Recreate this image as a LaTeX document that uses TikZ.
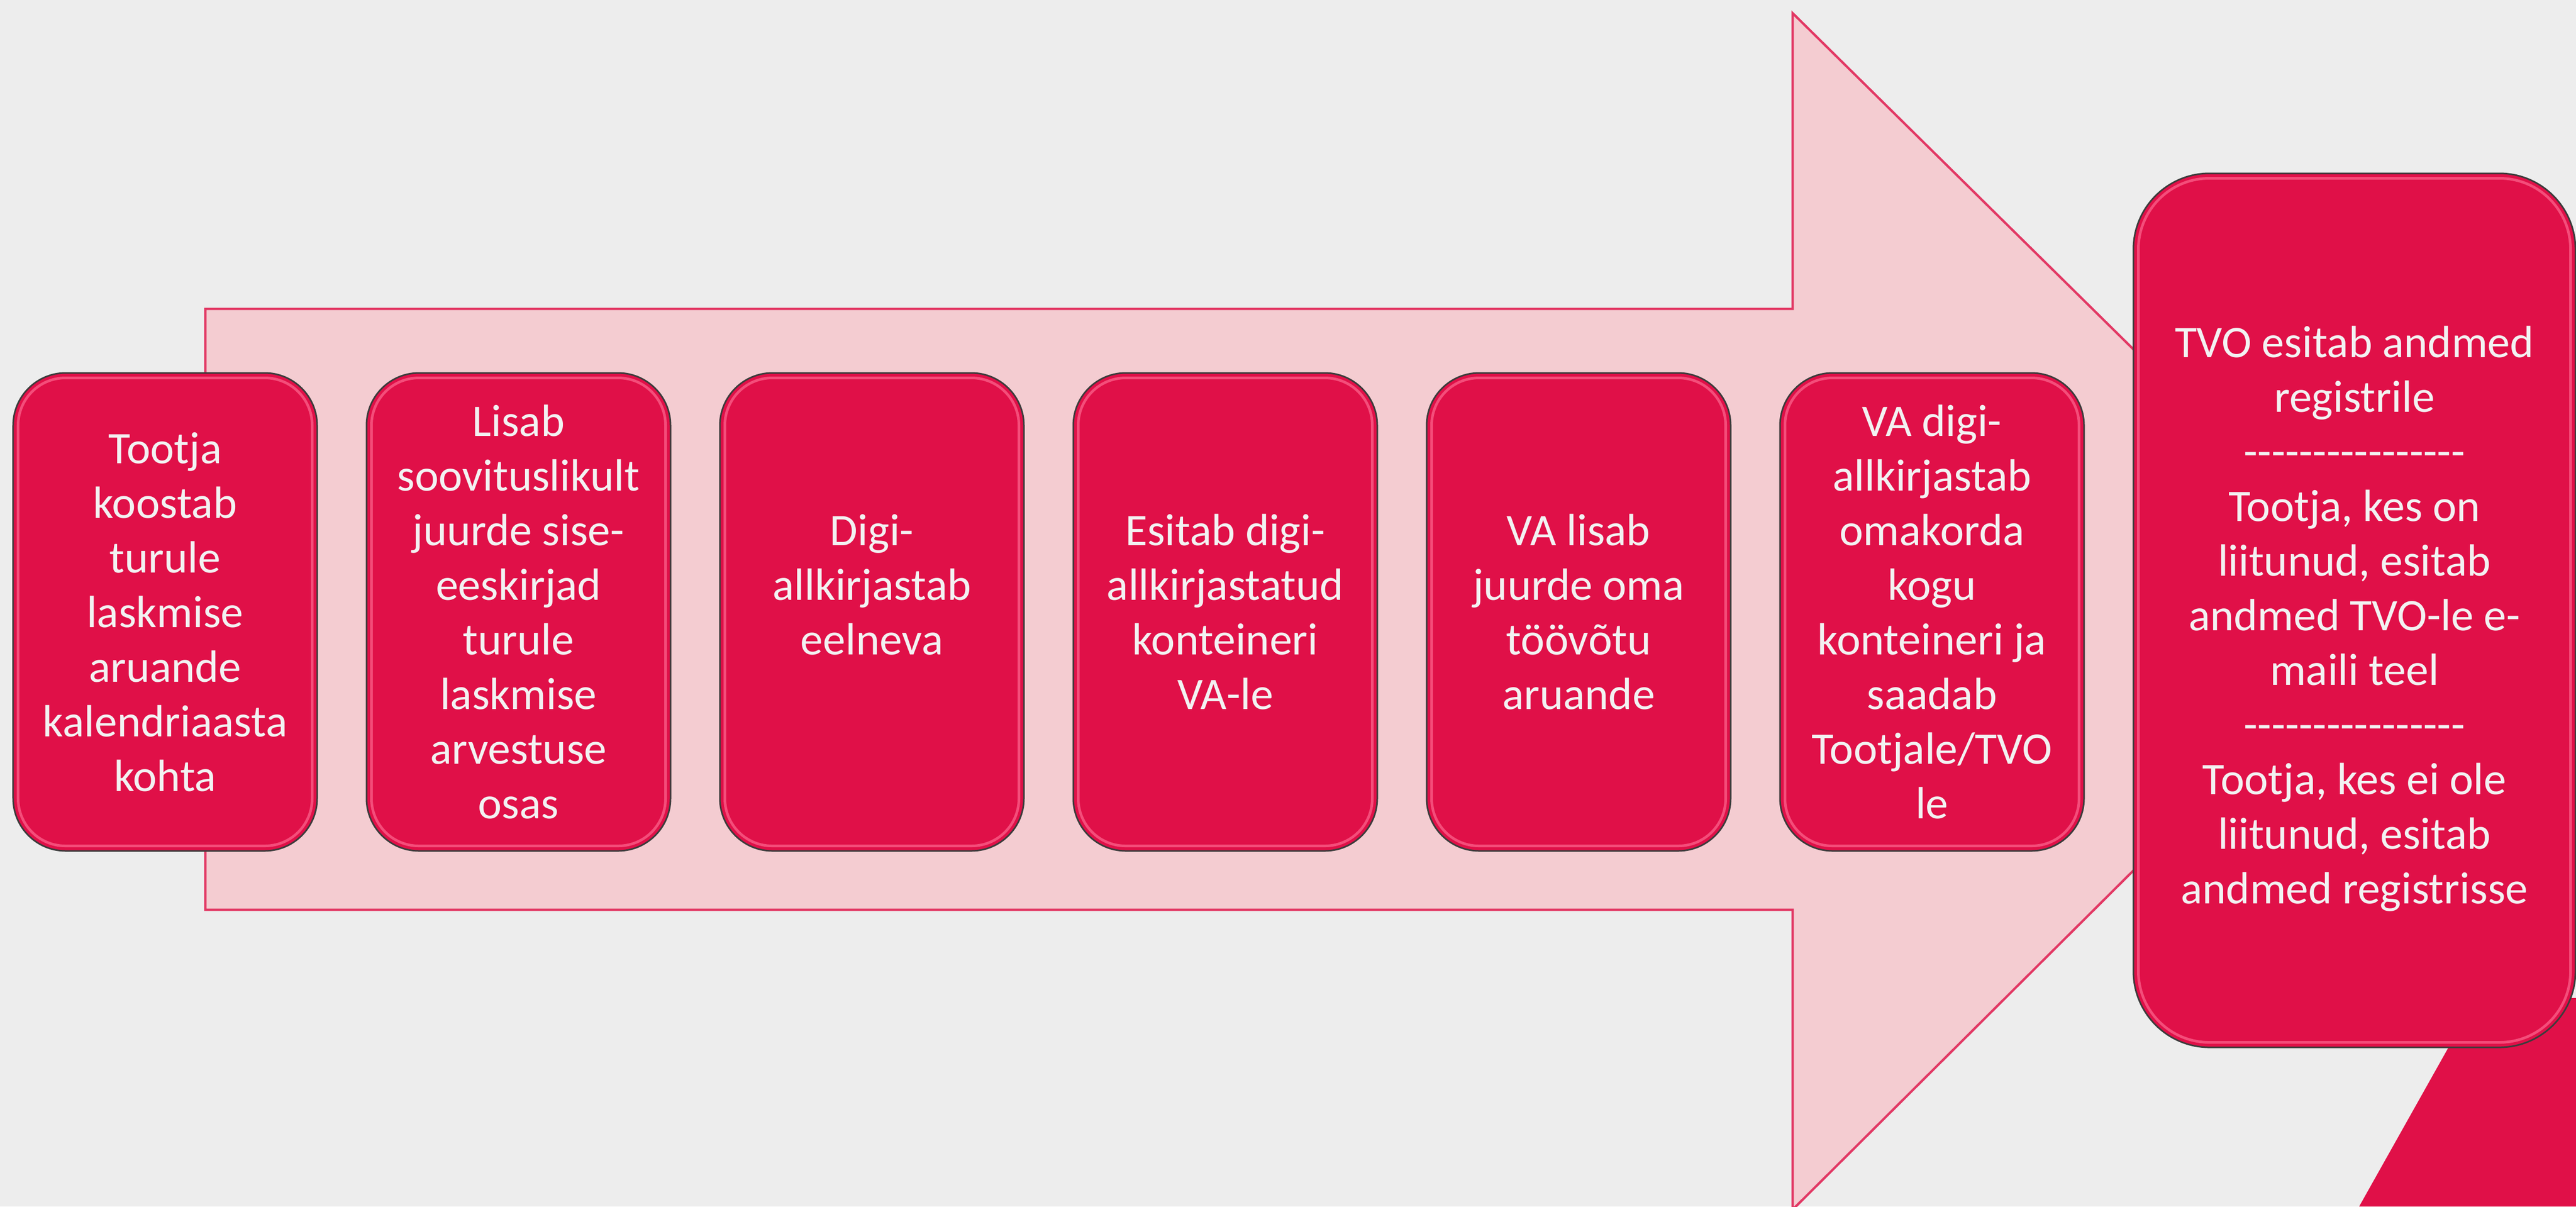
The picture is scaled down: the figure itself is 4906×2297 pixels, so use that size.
\documentclass[tikz,border=0pt]{standalone}
\usepackage{fontspec}
\setmainfont{Carlito}
\definecolor{bg}{RGB}{237,237,237}
\definecolor{arrowfill}{RGB}{244,204,209}
\definecolor{arrowline}{RGB}{226,56,100}
\definecolor{boxred}{RGB}{224,16,72}
\definecolor{boxline}{RGB}{60,60,60}
\definecolor{hilite}{RGB}{255,110,150}
\definecolor{txt}{RGB}{242,242,242}
\newcommand{\dashrow}{-{}-{}-{}-{}-{}-{}-{}-{}-{}-{}-{}-{}-{}-{}-{}-{}}
\begin{document}
\begin{tikzpicture}[x=0.2pt,y=-0.2pt,
  boxtext/.style={text=txt, align=center, inner sep=0pt, font=\fontsize{17.2}{20.8}\selectfont},
  stepbox/.style={boxtext, fill=boxred, draw=boxline, line width=0.6pt, rounded corners=20pt,
    minimum width=115.8pt, minimum height=182pt},
  bigbox/.style={stepbox, rounded corners=29pt, minimum width=168.4pt, minimum height=332.8pt},
  hl/.style={draw=hilite, line width=1pt, opacity=0.65, rounded corners=18pt},
  hlbig/.style={hl, rounded corners=27pt}]
\useasboundingbox (0,0) rectangle (4906,2297);
\fill[bg] (0,0) rectangle (4906,2297);
\clip (0,0) rectangle (4906,2297);
% big arrow
\draw[fill=arrowfill, draw=arrowline, line width=0.9pt]
  (391,588) -- (3414,588) -- (3414,25) -- (4564,1159) -- (3414,2303) -- (3414,1732) -- (391,1732) -- cycle;
% red quad bottom right
\fill[boxred] (4716,1900) -- (4906,1900) -- (4906,2297) -- (4493,2297) -- cycle;
% steps
\node[stepbox] (b1) at (314.5,1165) {Tootja\\koostab\\turule\\laskmise\\aruande\\kalendriaasta\\kohta};
\node[stepbox] (b2) at (987.5,1165) {Lisab\\soovituslikult\\juurde sise-\\eeskirjad\\turule\\laskmise\\arvestuse\\osas};
\node[stepbox] (b3) at (1660.5,1165) {Digi-\\allkirjastab\\eelneva\\~};
\node[stepbox] (b4) at (2333.5,1165) {Esitab digi-\\allkirjastatud\\konteineri\\VA-le};
\node[stepbox] (b5) at (3006.5,1165) {VA lisab\\juurde oma\\töövõtu\\aruande};
\node[stepbox] (b6) at (3679.5,1165) {VA digi-\\allkirjastab\\omakorda\\kogu\\konteineri ja\\saadab\\Tootjale/TVO\\le};
\node[bigbox] (b7) at (4484,1162) {};
\node[boxtext] (b7t) at (4484,1178) {TVO esitab andmed\\registrile\\\dashrow\\Tootja, kes on\\liitunud, esitab\\andmed TVO-le e-\\maili teel\\\dashrow\\Tootja, kes ei ole\\liitunud, esitab\\andmed registrisse};
\foreach \b in {b1,b2,b3,b4,b5,b6}{
  \draw[hl] ([xshift=2.2pt,yshift=-2.2pt]\b.north west) rectangle ([xshift=-2.2pt,yshift=2.2pt]\b.south east);
}
\draw[hlbig] ([xshift=2.2pt,yshift=-2.2pt]b7.north west) rectangle ([xshift=-2.2pt,yshift=2.2pt]b7.south east);
\end{tikzpicture}
\end{document}
